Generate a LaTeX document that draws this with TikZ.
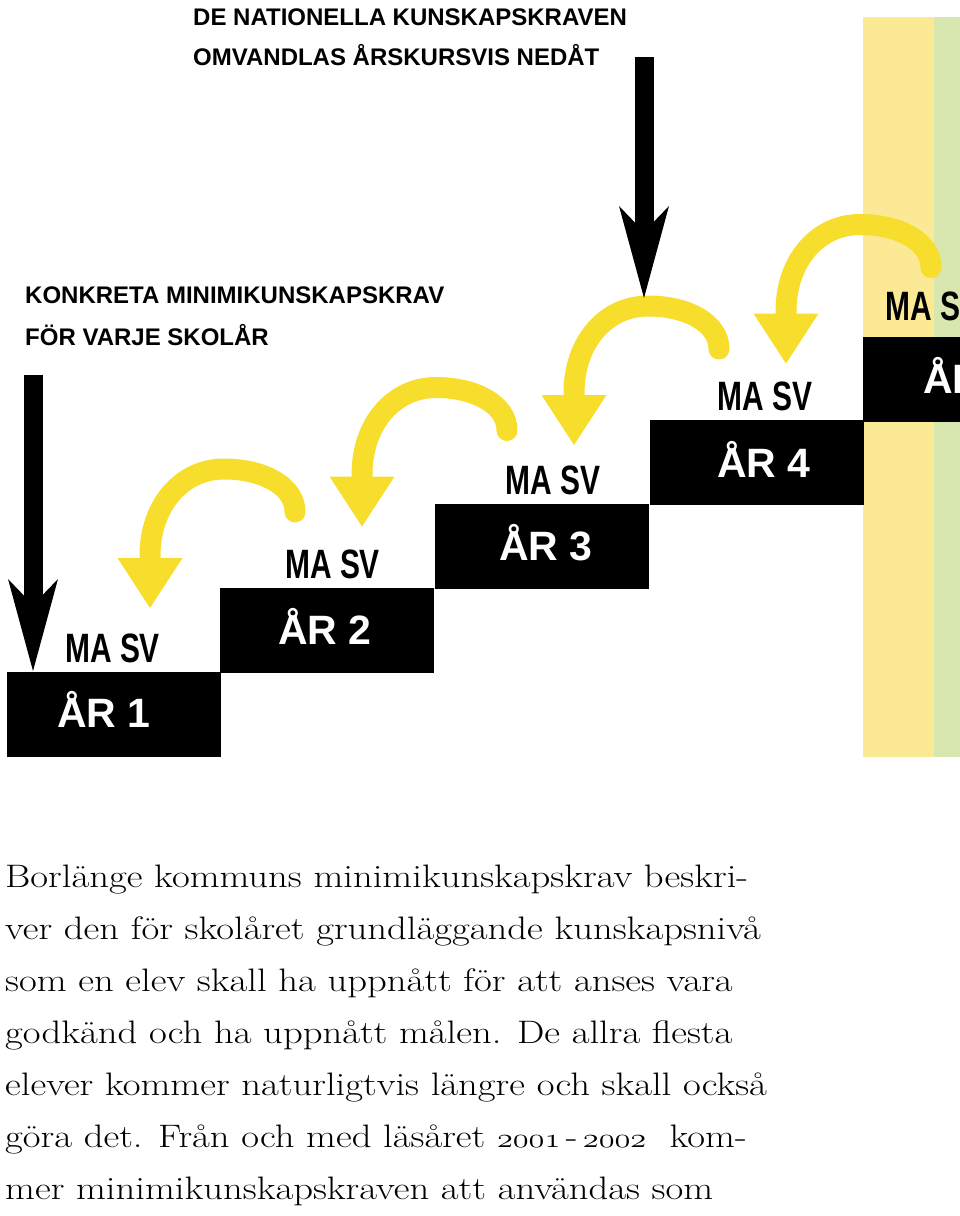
\documentclass[tikz,border=0pt]{standalone}
\usepackage{fontspec}
\usepackage{graphicx}
\usetikzlibrary{arrows.meta}

\newfontfamily\blockfamily{Liberation Sans}
\newfontfamily\narrowfamily{Liberation Sans}[FakeStretch=0.73]
\newfontfamily\bodyfamily{Latin Modern Roman}[FakeStretch=1.19]
\newcommand\yearnum[1]{\scalebox{1.3}[1.1]{\usefont{OML}{lmm}{m}{it}#1}}

\definecolor{arcyellow}{RGB}{247,221,44}
\definecolor{baryellow}{RGB}{252,233,150}
\definecolor{bargreen}{RGB}{216,230,176}

\begin{document}
\begin{tikzpicture}[
  x=1pt, y=-1pt,
  stepbox/.style={fill=black, minimum width=214pt, minimum height=85pt, inner sep=0pt, anchor=north west},
  yrlabel/.style={text=white, font=\blockfamily\bfseries\fontsize{41}{41}\selectfont, inner sep=0pt, anchor=base west},
  subjlabel/.style={font=\narrowfamily\bfseries\fontsize{41}{41}\selectfont, inner sep=0pt, anchor=base west},
  headline/.style={font=\blockfamily\bfseries\fontsize{24}{24}\selectfont, inner sep=0pt, anchor=base west},
  bodytext/.style={font=\bodyfamily\fontsize{32.5}{52}\selectfont, align=left, inner sep=0pt, anchor=base west},
  downarrow/.style={line width=19pt, -{Stealth[length=92pt, width=50pt, inset=26pt, line width=0pt]}},
  backarc/.style={draw=arcyellow, line width=21pt, line cap=round,
                  -{Triangle[length=50pt, width=65pt, line width=0pt]}}
]
\useasboundingbox (0,0) rectangle (960,1216);
\clip (0,0) rectangle (960,1216);

% bars at the right edge
\fill[baryellow] (863,17) rectangle (934,757);
\fill[bargreen] (934,17) rectangle (960,757);

% the stairs
\node[stepbox] (s1) at (7,672) {};
\node[stepbox] (s2) at (220,588) {};
\node[stepbox] (s3) at (435,504) {};
\node[stepbox] (s4) at (650,420) {};
\node[stepbox] (s5) at (863,337) {};

\node[subjlabel] (ma1) at (65,662) {MA SV};
\node[subjlabel] (ma2) at (285,578) {MA SV};
\node[subjlabel] (ma3) at (505,494) {MA SV};
\node[subjlabel] (ma4) at (717,410) {MA SV};
\node[subjlabel] (ma5) at (885,320) {MA SV};

\node[yrlabel] (yr1) at (57,727) {ÅR 1};
\node[yrlabel] (yr2) at (278,644) {ÅR 2};
\node[yrlabel] (yr3) at (499,560) {ÅR 3};
\node[yrlabel] (yr4) at (717,477) {ÅR 4};
\node[yrlabel] (yr5) at (923,393) {ÅR 5};

% headings
\node[headline] (nat1) at (193,25) {DE NATIONELLA KUNSKAPSKRAVEN};
\node[headline] (nat2) at (193,65) {OMVANDLAS ÅRSKURSVIS NEDÅT};
\node[headline] (konk1) at (25,303) {KONKRETA MINIMIKUNSKAPSKRAV};
\node[headline] (konk2) at (25,345) {FÖR VARJE SKOLÅR};

% yellow arcs, one per step
\foreach \i in {0,...,3} {
  \begin{scope}[shift={({212*\i},{-81.5*\i})}]
    \coordinate (arcS\i) at (295,512);
    \coordinate (arcE\i) at (150,608);
    \draw[backarc] (arcS\i) .. controls (295,486) and (263,469) .. (224,469)
      .. controls (182,469) and (150,505) .. (150,556) -- (arcE\i);
  \end{scope}
}

% black arrows
\coordinate (natTop) at (644,57);
\coordinate (natTip) at (644,298);
\coordinate (konkTop) at (33,375);
\coordinate (konkTip) at (33,671);
\draw[downarrow] (natTop) -- (natTip);
\draw[downarrow] (konkTop) -- (konkTip);

% body text (base anchor sits on the last line)
\node[bodytext] (body) at (5,1199) {Borlänge kommuns minimikunskapskrav beskri-\\
ver den för skolåret grundläggande kunskapsnivå\\
som en elev skall ha uppnått för att anses vara\\
godkänd och ha uppnått målen. De allra flesta\\
elever kommer naturligtvis längre och skall också\\
göra det. Från och med läsåret \yearnum{2001}\,-\,\yearnum{2002}\ \ kom-\\
mer minimikunskapskraven att användas som};
\end{tikzpicture}
\end{document}
